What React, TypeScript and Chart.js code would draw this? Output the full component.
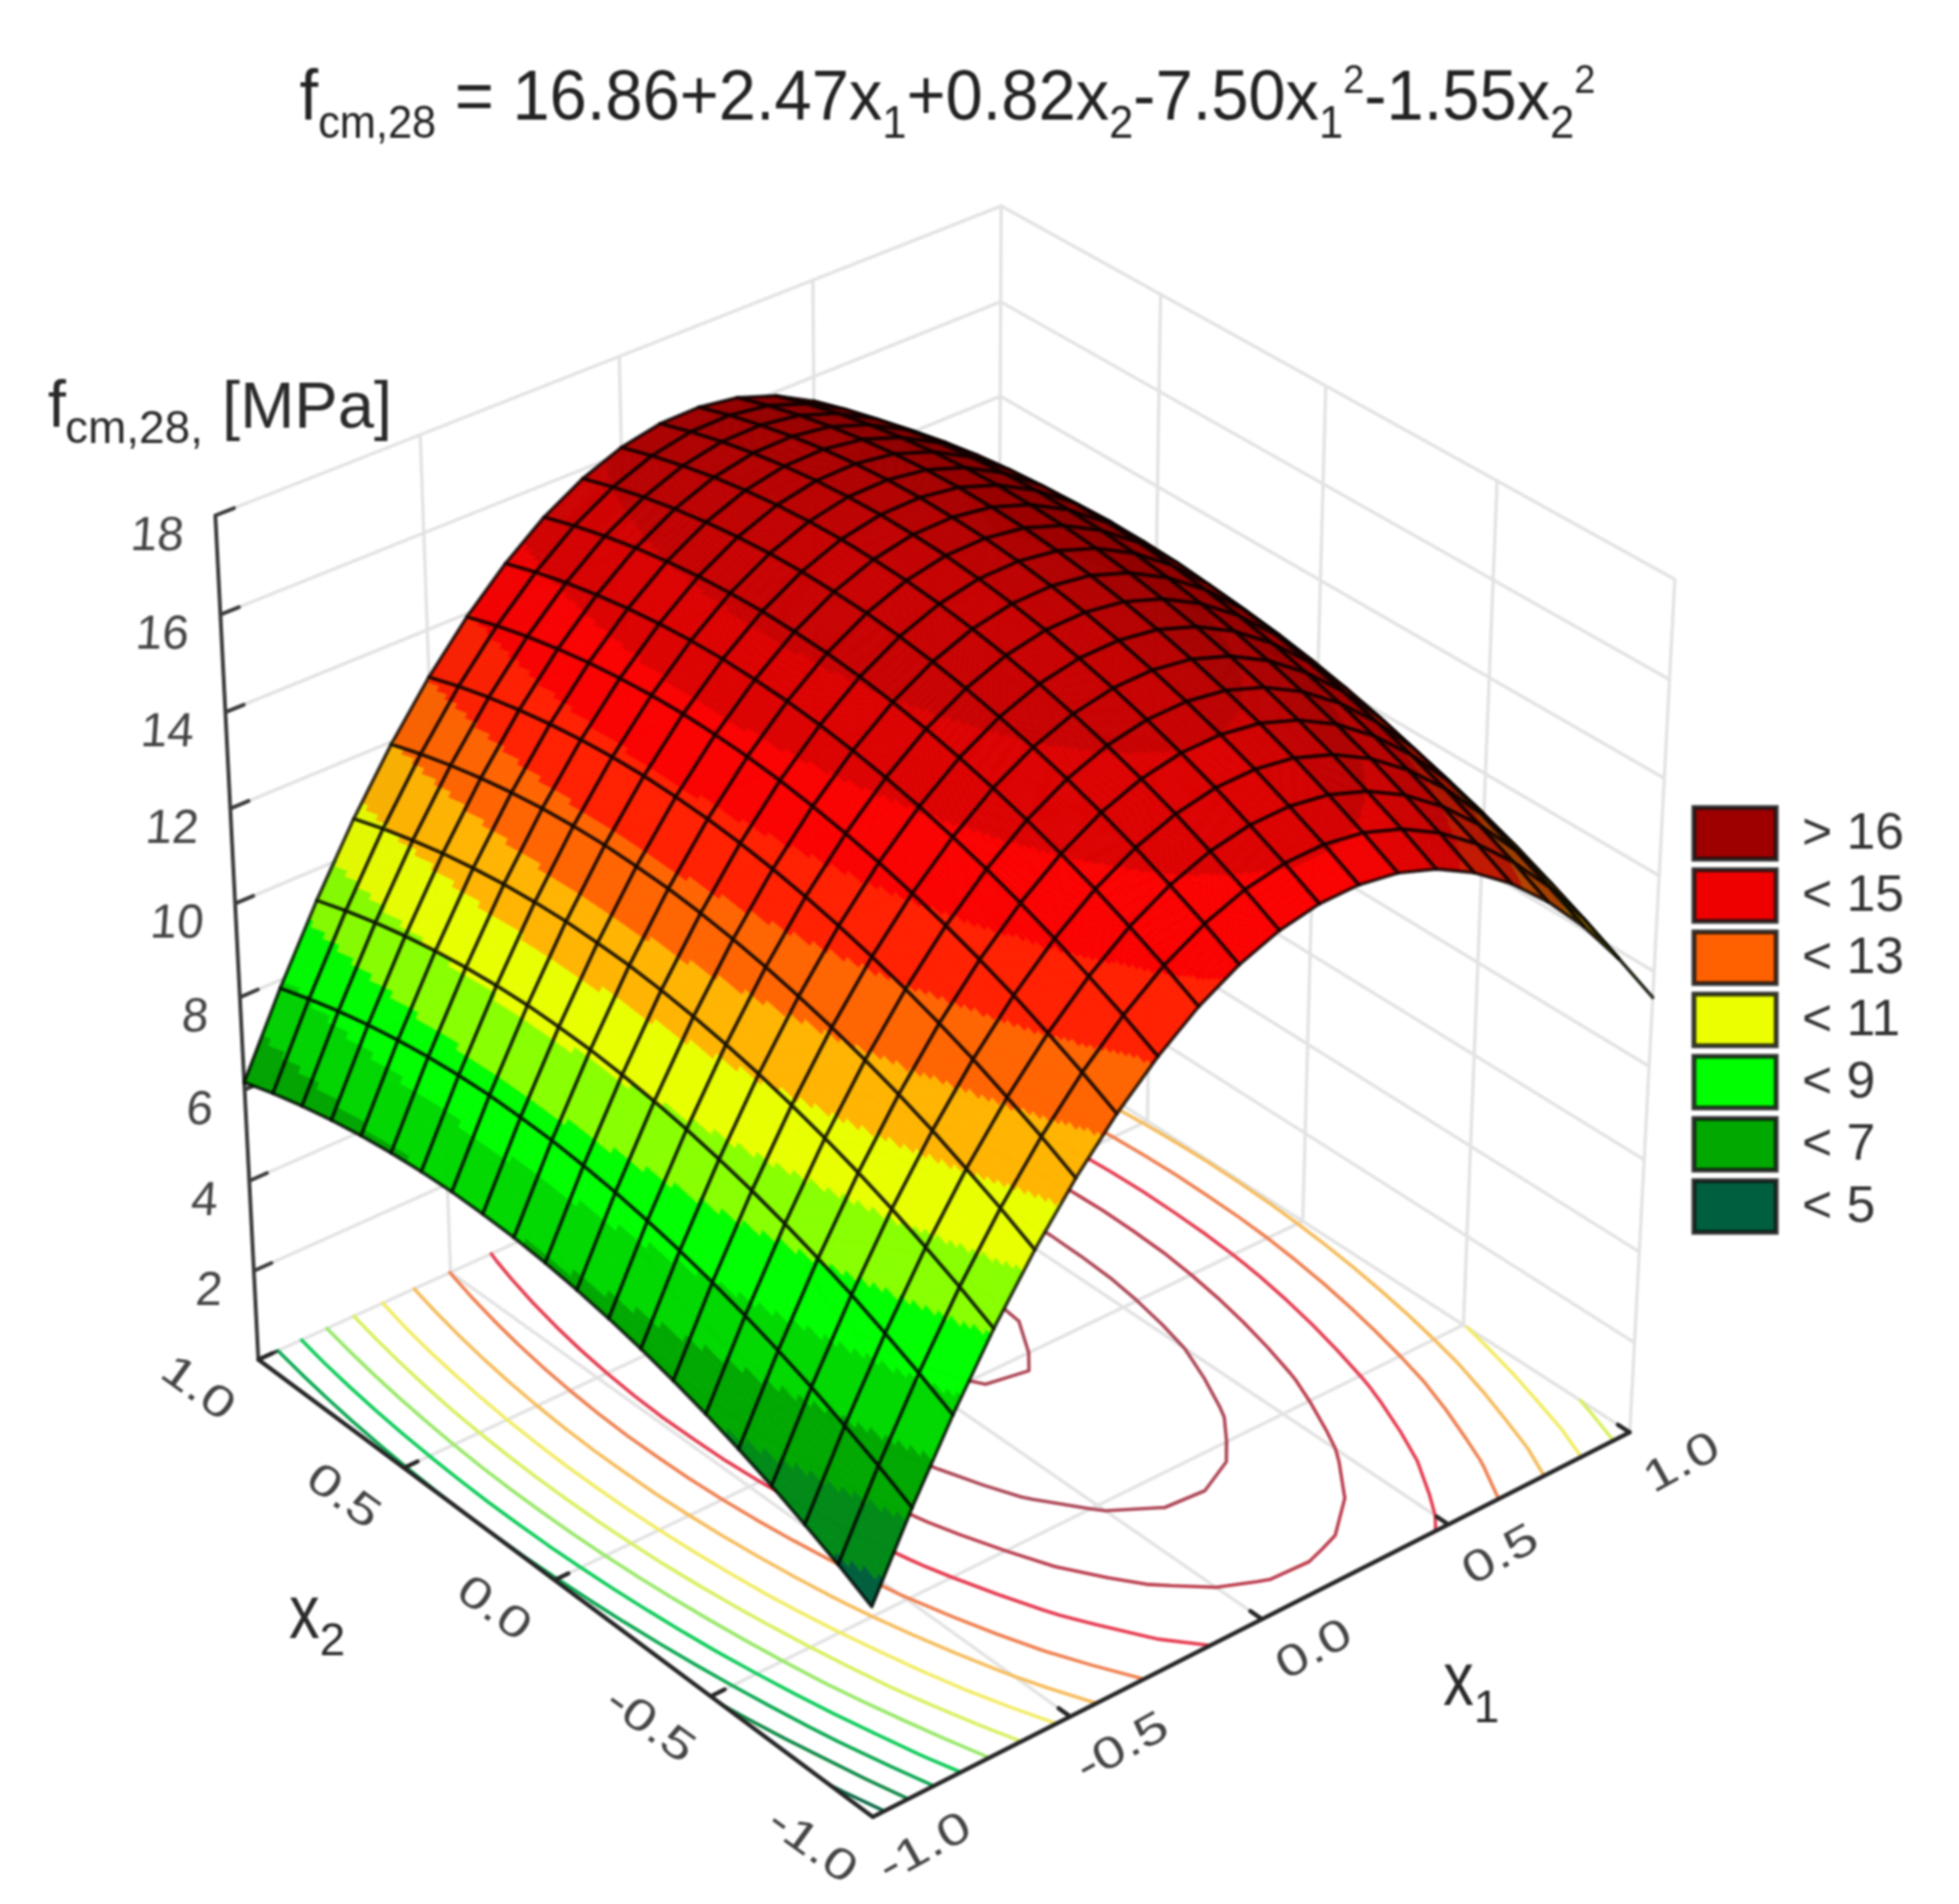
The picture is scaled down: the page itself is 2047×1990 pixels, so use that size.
import { useEffect, useRef } from "react";
import { Chart, registerables } from "chart.js";
Chart.register(...registerables);

const x1Values = [-1, -0.9, -0.8, -0.7, -0.6, -0.5, -0.4, -0.3, -0.2, -0.1, 0, 0.1, 0.2, 0.3, 0.4, 0.5, 0.6, 0.7, 0.8, 0.9, 1];
const x2Values = [-1, -0.9, -0.8, -0.7, -0.6, -0.5, -0.4, -0.3, -0.2, -0.1, 0, 0.1, 0.2, 0.3, 0.4, 0.5, 0.6, 0.7, 0.8, 0.9, 1];
// strength over the grid: one row per x1 value, one column per x2 value
const strength = [
  [4.52, 4.90, 5.24, 5.56, 5.84, 6.09, 6.31, 6.50, 6.66, 6.79, 6.89, 6.96, 6.99, 7.00, 6.97, 6.91, 6.82, 6.70, 6.55, 6.37, 6.16],
  [6.19, 6.57, 6.91, 7.23, 7.51, 7.76, 7.98, 8.17, 8.33, 8.46, 8.56, 8.63, 8.66, 8.67, 8.64, 8.58, 8.49, 8.37, 8.22, 8.04, 7.83],
  [7.71, 8.09, 8.43, 8.75, 9.03, 9.28, 9.50, 9.69, 9.85, 9.98, 10.08, 10.15, 10.18, 10.19, 10.16, 10.10, 10.01, 9.89, 9.74, 9.56, 9.35],
  [9.09, 9.47, 9.81, 10.13, 10.41, 10.66, 10.88, 11.07, 11.23, 11.36, 11.46, 11.53, 11.56, 11.57, 11.54, 11.48, 11.39, 11.27, 11.12, 10.94, 10.73],
  [10.31, 10.69, 11.03, 11.35, 11.63, 11.88, 12.10, 12.29, 12.45, 12.58, 12.68, 12.75, 12.78, 12.79, 12.76, 12.70, 12.61, 12.49, 12.34, 12.16, 11.95],
  [11.38, 11.76, 12.10, 12.42, 12.70, 12.95, 13.17, 13.36, 13.52, 13.65, 13.75, 13.82, 13.85, 13.86, 13.83, 13.77, 13.68, 13.56, 13.41, 13.23, 13.02],
  [12.30, 12.68, 13.02, 13.34, 13.62, 13.87, 14.09, 14.28, 14.44, 14.57, 14.67, 14.74, 14.77, 14.78, 14.75, 14.69, 14.60, 14.48, 14.33, 14.15, 13.94],
  [13.07, 13.45, 13.79, 14.11, 14.39, 14.64, 14.86, 15.05, 15.21, 15.34, 15.44, 15.51, 15.54, 15.55, 15.52, 15.46, 15.37, 15.25, 15.10, 14.92, 14.71],
  [13.70, 14.08, 14.42, 14.74, 15.02, 15.27, 15.49, 15.68, 15.84, 15.97, 16.07, 16.14, 16.17, 16.18, 16.15, 16.09, 16.00, 15.88, 15.73, 15.55, 15.34],
  [14.17, 14.55, 14.89, 15.21, 15.49, 15.74, 15.96, 16.15, 16.31, 16.44, 16.54, 16.61, 16.64, 16.65, 16.62, 16.56, 16.47, 16.35, 16.20, 16.02, 15.81],
  [14.49, 14.87, 15.21, 15.53, 15.81, 16.06, 16.28, 16.47, 16.63, 16.76, 16.86, 16.93, 16.96, 16.97, 16.94, 16.88, 16.79, 16.67, 16.52, 16.34, 16.13],
  [14.66, 15.04, 15.38, 15.70, 15.98, 16.23, 16.45, 16.64, 16.80, 16.93, 17.03, 17.10, 17.13, 17.14, 17.11, 17.05, 16.96, 16.84, 16.69, 16.51, 16.30],
  [14.68, 15.06, 15.40, 15.72, 16.00, 16.25, 16.47, 16.66, 16.82, 16.95, 17.05, 17.12, 17.15, 17.16, 17.13, 17.07, 16.98, 16.86, 16.71, 16.53, 16.32],
  [14.56, 14.94, 15.28, 15.60, 15.88, 16.13, 16.35, 16.54, 16.70, 16.83, 16.93, 17.00, 17.03, 17.04, 17.01, 16.95, 16.86, 16.74, 16.59, 16.41, 16.20],
  [14.28, 14.66, 15.00, 15.32, 15.60, 15.85, 16.07, 16.26, 16.42, 16.55, 16.65, 16.72, 16.75, 16.76, 16.73, 16.67, 16.58, 16.46, 16.31, 16.13, 15.92],
  [13.85, 14.23, 14.57, 14.89, 15.17, 15.42, 15.64, 15.83, 15.99, 16.12, 16.22, 16.29, 16.32, 16.33, 16.30, 16.24, 16.15, 16.03, 15.88, 15.70, 15.49],
  [13.27, 13.65, 13.99, 14.31, 14.59, 14.84, 15.06, 15.25, 15.41, 15.54, 15.64, 15.71, 15.74, 15.75, 15.72, 15.66, 15.57, 15.45, 15.30, 15.12, 14.91],
  [12.54, 12.92, 13.26, 13.58, 13.86, 14.11, 14.33, 14.52, 14.68, 14.81, 14.91, 14.98, 15.01, 15.02, 14.99, 14.93, 14.84, 14.72, 14.57, 14.39, 14.18],
  [11.67, 12.05, 12.39, 12.71, 12.99, 13.24, 13.46, 13.65, 13.81, 13.94, 14.04, 14.11, 14.14, 14.15, 14.12, 14.06, 13.97, 13.85, 13.70, 13.52, 13.31],
  [10.64, 11.02, 11.36, 11.68, 11.96, 12.21, 12.43, 12.62, 12.78, 12.91, 13.01, 13.08, 13.11, 13.12, 13.09, 13.03, 12.94, 12.82, 12.67, 12.49, 12.28],
  [9.46, 9.84, 10.18, 10.50, 10.78, 11.03, 11.25, 11.44, 11.60, 11.73, 11.83, 11.90, 11.93, 11.94, 11.91, 11.85, 11.76, 11.64, 11.49, 11.31, 11.10],
];

const contourLevels = [5, 6, 7, 8, 9, 10, 11, 12, 13, 14, 15, 16, 17];
const contourColors = ["#0b6b45", "#0f8a45", "#0aa850", "#0ccc58", "#98e868", "#d8f060", "#f2ec66", "#f6bc5c", "#f08050", "#e63c50", "#bc4050", "#ae4858", "#ae4858"];
const bandLimits = [5, 6, 7, 8, 9, 10, 11, 12, 13, 14, 15, 16];
const bandColors = ["#005f3e", "#008a18", "#00a800", "#00d800", "#00ff00", "#88ff00", "#e8ff00", "#ffb400", "#ff6400", "#ff2000", "#fa0000", "#dc0000", "#c80000"];

const gridSteps = [-1, -0.5, 0, 0.5, 1];
const zTicks = [0, 2, 4, 6, 8, 10, 12, 14, 16, 18];
const zTickLabels = ["", "2", "4", "6", "8", "10", "12", "14", "16", "18"];
const x1Ticks = [-1, -0.5, 0, 0.5, 1];
const x1TickLabels = ["-1.0", "-0.5", "0.0", "0.5", "1.0"];
const x2Ticks = [-1, -0.5, 0, 0.5, 1];
const x2TickLabels = ["-1.0", "-0.5", "0.0", "0.5", "1.0"];

const legendLabels = ["> 16", "< 15", "< 13", "< 11", "< 9", "< 7", "< 5"];
const legendColors = ["#9e0000", "#ee0000", "#ff6000", "#ebff00", "#00ff00", "#00a800", "#005f3e"];

type Run = { t: string; k: "m" | "b" | "p" };
const titleRuns: Run[] = [
  { t: "f", k: "m" }, { t: "cm,28", k: "b" }, { t: " = 16.86+2.47x", k: "m" }, { t: "1", k: "b" },
  { t: "+0.82x", k: "m" }, { t: "2", k: "b" }, { t: "-7.50x", k: "m" }, { t: "1", k: "b" }, { t: "2", k: "p" },
  { t: "-1.55x", k: "m" }, { t: "2", k: "b" }, { t: "2", k: "p" },
];

const FONT = '"Liberation Sans"';

// perspective view of the plot box
function project(x1: number, x2: number, z: number) {
  const w = 1 + 0.0275 * x1 + 0.035 * x2 - 0.003352 * z;
  return {
    x: (981.1 + 417.6 * x1 - 291.5 * x2 - 3.27 * z) / w,
    y: (1458.75 - 147.25 * x1 - 174.3 * x2 - 51.19 * z) / w,
  };
}
const depth = (x1: number, x2: number, z: number) => 1 + 0.0275 * x1 + 0.035 * x2 - 0.003352 * z;

const GAP = { x: NaN, y: NaN };

function segs(list: number[][][]) {
  const out: { x: number; y: number }[] = [];
  list.forEach((s) => {
    s.forEach((p) => out.push(project(p[0], p[1], p[2])));
    out.push(GAP);
  });
  return out;
}

function wallGrid() {
  const s: number[][][] = [];
  zTicks.forEach((z) => {
    s.push([[-1, 1, z], [1, 1, z]]);
    s.push([[1, 1, z], [1, -1, z]]);
  });
  gridSteps.forEach((g) => {
    s.push([[g, 1, 0], [g, 1, 18]]);
    s.push([[1, g, 0], [1, g, 18]]);
    s.push([[g, -1, 0], [g, 1, 0]]);
    s.push([[-1, g, 0], [1, g, 0]]);
  });
  return segs(s);
}

function contour(level: number) {
  const s: number[][][] = [];
  for (let i = 0; i < x1Values.length - 1; i++) {
    for (let j = 0; j < x2Values.length - 1; j++) {
      const c = [
        [x1Values[i], x2Values[j], strength[i][j]],
        [x1Values[i + 1], x2Values[j], strength[i + 1][j]],
        [x1Values[i + 1], x2Values[j + 1], strength[i + 1][j + 1]],
        [x1Values[i], x2Values[j + 1], strength[i][j + 1]],
      ];
      const hits: number[][] = [];
      for (let e = 0; e < 4; e++) {
        const a = c[e], b = c[(e + 1) % 4];
        if (a[2] < level !== b[2] < level) {
          const t = (level - a[2]) / (b[2] - a[2]);
          hits.push([a[0] + t * (b[0] - a[0]), a[1] + t * (b[1] - a[1]), 0]);
        }
      }
      if (hits.length === 2) s.push(hits);
      if (hits.length === 4) { s.push([hits[0], hits[1]]); s.push([hits[2], hits[3]]); }
    }
  }
  return segs(s);
}

function axisSegments() {
  const s: number[][][] = [[[-1, 1, 0], [-1, 1, 18]]];
  zTicks.forEach((z) => s.push([[-1, 1, z], [-0.955, 1, z]]));
  return segs(s);
}
function floorSegments() {
  const s: number[][][] = [[[-1, 1, 0], [-1, -1, 0]], [[-1, -1, 0], [1, -1, 0]]];
  x2Ticks.forEach((v) => s.push([[-1, v, 0], [-0.965, v, 0]]));
  x1Ticks.forEach((v) => s.push([[v, -1, 0], [v, -0.965, 0]]));
  return segs(s);
}

const lineSet = (data: any[], color: string, width: number) => ({
  data, showLine: true, borderColor: color, borderWidth: width, pointRadius: 0, pointHoverRadius: 0,
  borderCapStyle: "round", borderJoinStyle: "round", spanGaps: false, fill: false, tension: 0,
});

function rgb(hex: string, f: number) {
  const n = parseInt(hex.slice(1), 16);
  return `rgb(${Math.round(((n >> 16) & 255) * f)},${Math.round(((n >> 8) & 255) * f)},${Math.round((n & 255) * f)})`;
}
function bandColor(z: number) {
  let k = 0;
  while (k < bandLimits.length && z >= bandLimits[k]) k++;
  return bandColors[k];
}

const surfacePlugin = {
  id: "surface3d",
  afterDatasetsDraw(chart: any) {
    const { ctx } = chart;
    const sx = chart.scales.x, sy = chart.scales.y;
    const px = (a: number, b: number, z: number) => {
      const p = project(a, b, z);
      return [sx.getPixelForValue(p.x), sy.getPixelForValue(p.y)];
    };
    const cells: { i: number; j: number; d: number }[] = [];
    for (let i = 0; i < x1Values.length - 1; i++) {
      for (let j = 0; j < x2Values.length - 1; j++) {
        const zc = (strength[i][j] + strength[i + 1][j] + strength[i][j + 1] + strength[i + 1][j + 1]) / 4;
        cells.push({ i, j, d: depth((x1Values[i] + x1Values[i + 1]) / 2, (x2Values[j] + x2Values[j + 1]) / 2, zc) });
      }
    }
    cells.sort((a, b) => b.d - a.d);
    const SUB = 14;
    ctx.save();
    ctx.lineJoin = "round";
    cells.forEach(({ i, j }) => {
      const a0 = x1Values[i], a1 = x1Values[i + 1], b0 = x2Values[j], b1 = x2Values[j + 1];
      const z00 = strength[i][j], z10 = strength[i + 1][j], z01 = strength[i][j + 1], z11 = strength[i + 1][j + 1];
      const zAt = (s: number, t: number) => z00 * (1 - s) * (1 - t) + z10 * s * (1 - t) + z01 * (1 - s) * t + z11 * s * t;
      const P = (s: number, t: number) => px(a0 + (a1 - a0) * s, b0 + (b1 - b0) * t, zAt(s, t));
      // slope of the facet, in box units, gives its light
      const dA = (((z10 + z11) - (z00 + z01)) / 2) / (a1 - a0) * (2 / 18);
      const dB = (((z01 + z11) - (z00 + z10)) / 2) / (b1 - b0) * (2 / 18);
      const len = Math.sqrt(dA * dA + dB * dB + 1);
      const nv = (0.55 * dA + 0.6 * dB + 0.58) / len;
      const light = Math.min(1, Math.max(0.35, 0.5 + 0.68 * nv));
      for (let u = 0; u < SUB; u++) {
        for (let v = 0; v < SUB; v++) {
          const s0 = u / SUB, s1 = (u + 1) / SUB, t0 = v / SUB, t1 = (v + 1) / SUB;
          const col = rgb(bandColor(zAt((s0 + s1) / 2, (t0 + t1) / 2)), light);
          ctx.fillStyle = col;
          ctx.strokeStyle = col;
          ctx.lineWidth = 0.8;
          const q = [P(s0, t0), P(s1, t0), P(s1, t1), P(s0, t1)];
          ctx.beginPath();
          ctx.moveTo(q[0][0], q[0][1]);
          for (let n = 1; n < 4; n++) ctx.lineTo(q[n][0], q[n][1]);
          ctx.closePath();
          ctx.fill();
          ctx.stroke();
        }
      }
      const e = [px(a0, b0, z00), px(a1, b0, z10), px(a1, b1, z11), px(a0, b1, z01)];
      ctx.beginPath();
      ctx.moveTo(e[0][0], e[0][1]);
      for (let n = 1; n < 4; n++) ctx.lineTo(e[n][0], e[n][1]);
      ctx.closePath();
      ctx.strokeStyle = "rgba(0,0,0,0.76)";
      ctx.lineWidth = 3.7;
      ctx.stroke();
    });
    ctx.restore();
  },
  afterDraw(chart: any) {
    const { ctx } = chart;
    const sx = chart.scales.x, sy = chart.scales.y;
    const px = (a: number, b: number, z: number) => {
      const p = project(a, b, z);
      return [sx.getPixelForValue(p.x), sy.getPixelForValue(p.y)];
    };
    ctx.save();
    ctx.textBaseline = "alphabetic";
    // title
    const fonts: any = { m: `74px ${FONT}`, b: `48px ${FONT}`, p: `42px ${FONT}` };
    const baseY: any = { m: 125, b: 144, p: 97 };
    let total = 0;
    titleRuns.forEach((r) => { ctx.font = fonts[r.k]; total += ctx.measureText(r.t).width; });
    const kx = (1667 - 313) / total;
    let cx = 0;
    ctx.fillStyle = "#222";
    ctx.textAlign = "left";
    titleRuns.forEach((r) => {
      ctx.save();
      ctx.translate(313 + cx * kx, baseY[r.k]);
      ctx.scale(kx, 1);
      ctx.font = fonts[r.k];
      ctx.fillText(r.t, 0, 0);
      ctx.restore();
      ctx.font = fonts[r.k];
      cx += ctx.measureText(r.t).width;
    });
    // z axis name
    ctx.fillStyle = "#2a2a2a";
    ctx.font = `68px ${FONT}`;
    ctx.fillText("f", 50, 446);
    ctx.font = `48px ${FONT}`;
    ctx.fillText("cm,28,", 68, 463);
    ctx.font = `68px ${FONT}`;
    ctx.fillText("[MPa]", 232, 447);
    // z ticks
    ctx.fillStyle = "#444";
    ctx.textAlign = "right";
    ctx.textBaseline = "middle";
    zTicks.forEach((z, k) => {
      if (!zTickLabels[k]) return;
      const p = px(-1, 1, z);
      ctx.save();
      ctx.translate(p[0] - 33, p[1] + 22);
      ctx.transform(1, 0, -0.07, 1, 0, 0);
      ctx.font = `50px ${FONT}`;
      ctx.fillText(zTickLabels[k], 0, 0);
      ctx.restore();
    });
    // floor ticks
    ctx.textAlign = "center";
    const floorLabel = (txt: string, x: number, y: number, ang: number) => {
      ctx.save();
      ctx.translate(x, y);
      ctx.rotate(ang);
      ctx.scale(1.3, 1);
      ctx.font = `46px ${FONT}`;
      ctx.fillText(txt, 0, 0);
      ctx.restore();
    };
    x2Ticks.forEach((v, k) => {
      const p = px(-1, v, 0);
      floorLabel(x2TickLabels[k], p[0] - 64, p[1] + 31, (36 * Math.PI) / 180);
    });
    x1Ticks.forEach((v, k) => {
      const p = px(v, -1, 0);
      floorLabel(x1TickLabels[k], p[0] + 55, p[1] + 33, (-29 * Math.PI) / 180);
    });
    // axis names
    ctx.fillStyle = "#2a2a2a";
    ctx.textAlign = "left";
    ctx.textBaseline = "alphabetic";
    const axisName = (x: number, y: number, sub: string) => {
      ctx.save();
      ctx.translate(x, y);
      ctx.scale(0.8, 1);
      ctx.font = `80px ${FONT}`;
      ctx.fillText("x", 0, 0);
      ctx.restore();
      ctx.font = `48px ${FONT}`;
      ctx.fillText(sub, x + 32, y + 18);
    };
    axisName(302, 1712, "2");
    axisName(1508, 1782, "1");
    // legend
    legendLabels.forEach((lab, k) => {
      const y = 842 + k * 65;
      ctx.fillStyle = legendColors[k];
      ctx.fillRect(1770, y + 2, 86, 54);
      ctx.strokeStyle = "rgba(20,20,20,0.85)";
      ctx.lineWidth = 5;
      ctx.strokeRect(1770, y + 2, 86, 54);
      ctx.fillStyle = "#333";
      ctx.font = `54px ${FONT}`;
      ctx.textBaseline = "middle";
      ctx.fillText(lab, 1883, y + 30);
    });
    ctx.restore();
  },
};

export default function App() {
  const ref = useRef<HTMLCanvasElement>(null);
  useEffect(() => {
    const datasets: any[] = [lineSet(wallGrid(), "#e2e2e2", 3.4)];
    contourLevels.forEach((lv, k) => datasets.push(lineSet(contour(lv), contourColors[k], 3.6)));
    datasets.push(lineSet(axisSegments(), "#3a3a3a", 4));
    datasets.push(lineSet(floorSegments(), "#262626", 4.5));
    // Chart.js draws the first dataset on top unless told otherwise
    datasets.forEach((d, k) => (d.order = datasets.length - k));
    const chart = new Chart(ref.current as HTMLCanvasElement, {
      type: "scatter",
      data: { datasets },
      options: {
        animation: false,
        responsive: false,
        devicePixelRatio: 1,
        layout: { padding: 0 },
        plugins: { legend: { display: false }, tooltip: { enabled: false }, title: { display: false } },
        scales: {
          x: { type: "linear", min: 0, max: 2047, display: false },
          y: { type: "linear", min: 0, max: 1990, reverse: true, display: false },
        },
      },
      plugins: [surfacePlugin],
    } as any);
    return () => chart.destroy();
  }, []);
  return (
    <div style={{ position: "absolute", left: 0, top: 0, width: 2047, height: 1990, background: "#fff", overflow: "hidden" }}>
      <canvas ref={ref} width={2047} height={1990} style={{ display: "block", filter: "blur(1.1px)" }} />
    </div>
  );
}
